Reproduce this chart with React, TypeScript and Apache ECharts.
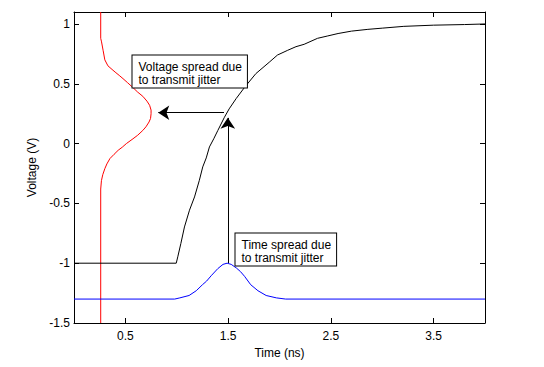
import React, { useEffect, useRef } from "react";
import * as echarts from "echarts";

// Step response (black)
const stepT = [0, 0.995, 1.01, 1.04, 1.075, 1.124, 1.173, 1.22, 1.253, 1.287, 1.318, 1.36, 1.4, 1.464, 1.51, 1.578, 1.66, 1.77, 1.9, 1.98, 2.08, 2.16, 2.24, 2.37, 2.47, 2.57, 2.7, 2.86, 3.0, 3.21, 3.5, 3.8, 4.0];
const stepV = [-1, -1, -0.947, -0.835, -0.697, -0.557, -0.446, -0.307, -0.195, -0.12, -0.028, 0.04, 0.11, 0.22, 0.29, 0.376, 0.47, 0.585, 0.68, 0.74, 0.78, 0.81, 0.83, 0.88, 0.9, 0.92, 0.94, 0.955, 0.965, 0.98, 0.99, 0.995, 1.0];

// Voltage spread distribution (red)
const voltX = [0.26, 0.26, 0.268, 0.283, 0.3, 0.33, 0.37, 0.4, 0.44, 0.477, 0.52, 0.574, 0.62, 0.67, 0.71, 0.736, 0.75, 0.75, 0.745, 0.73, 0.7, 0.67, 0.62, 0.574, 0.51, 0.47, 0.43, 0.39, 0.35, 0.32, 0.3, 0.28, 0.267, 0.26, 0.26];
const voltY = [1.1, 0.88, 0.85, 0.78, 0.7, 0.65, 0.62, 0.598, 0.57, 0.543, 0.51, 0.468, 0.43, 0.395, 0.355, 0.32, 0.28, 0.25, 0.21, 0.18, 0.14, 0.11, 0.07, 0.04, 0.0, -0.03, -0.056, -0.09, -0.125, -0.17, -0.21, -0.26, -0.31, -0.38, -1.5];

// Time spread distribution (blue)
const timeX = [0, 0.98, 1.03, 1.12, 1.19, 1.25, 1.29, 1.335, 1.4, 1.45, 1.49, 1.53, 1.58, 1.62, 1.66, 1.72, 1.79, 1.87, 1.97, 2.06, 4.0];
const timeY = [-1.3, -1.3, -1.29, -1.27, -1.23, -1.18, -1.15, -1.105, -1.045, -1.01, -1.0, -1.01, -1.04, -1.07, -1.11, -1.18, -1.23, -1.27, -1.29, -1.3, -1.3];

// Arrows
const arrowVertical = [[1.497, -1.0], [1.497, 0.215]];
const arrowHorizontal = [[1.46, 0.258], [0.82, 0.258]];

// Annotations (top-left anchor in data coords)
const notes = [
  { text: "Voltage spread due\nto transmit jitter", at: [0.564, 0.744] },
  { text: "Time spread due\nto transmit jitter", at: [1.569, -0.744] },
];

const xTicks = [0.5, 1.5, 2.5, 3.5];
const yTicks = [-1.5, -1, -0.5, 0, 0.5, 1];

const FONT = "Liberation Sans, Arial, sans-serif";

const zip = (a: number[], b: number[]) => a.map((v, i) => [v, b[i]]);

export default function App() {
  const ref = useRef<HTMLDivElement>(null);
  useEffect(() => {
    if (!ref.current) return;
    const chart = echarts.init(ref.current, null, { renderer: "svg" });
    const axisLine = { show: true, onZero: false, lineStyle: { color: "#000", width: 1 } };
    const xBase = {
      type: "value" as const,
      min: 0,
      max: 4,
      splitLine: { show: false },
      axisLine,
    };
    const yBase = {
      type: "value" as const,
      min: -1.5,
      max: 1.1,
      splitLine: { show: false },
      axisLine,
    };
    chart.setOption({
      animation: false,
      backgroundColor: "#fff",
      grid: { left: 74, right: 59, top: 12, bottom: 44, containLabel: false },
      xAxis: [
        {
          ...xBase,
          position: "bottom",
          name: "Time (ns)",
          nameLocation: "middle",
          nameGap: 23,
          nameTextStyle: { color: "#000", fontSize: 12, fontFamily: FONT },
          axisTick: { show: true, inside: true, length: 5, customValues: xTicks, lineStyle: { color: "#000" } },
          axisLabel: { show: true, customValues: xTicks, color: "#000", fontSize: 12, fontFamily: FONT, margin: 7 },
        },
        {
          ...xBase,
          position: "top",
          axisTick: { show: true, inside: true, length: 5, customValues: xTicks, lineStyle: { color: "#000" } },
          axisLabel: { show: false },
        },
      ],
      yAxis: [
        {
          ...yBase,
          position: "left",
          name: "Voltage (V)",
          nameLocation: "middle",
          nameGap: 31,
          nameTextStyle: { color: "#000", fontSize: 12, fontFamily: FONT },
          axisTick: { show: true, inside: true, length: 5, customValues: yTicks, lineStyle: { color: "#000" } },
          axisLabel: { show: true, customValues: yTicks, color: "#000", fontSize: 12, fontFamily: FONT, margin: 4 },
        },
        {
          ...yBase,
          position: "right",
          axisTick: { show: true, inside: true, length: 5, customValues: yTicks, lineStyle: { color: "#000" } },
          axisLabel: { show: false },
        },
      ],
      series: [
        {
          type: "line",
          data: zip(voltX, voltY),
          showSymbol: false,
          lineStyle: { color: "#ff0000", width: 1 },
          xAxisIndex: 0,
          yAxisIndex: 0,
        },
        {
          type: "line",
          data: zip(timeX, timeY),
          showSymbol: false,
          lineStyle: { color: "#0000ff", width: 1 },
        },
        {
          type: "line",
          data: zip(stepT, stepV),
          showSymbol: false,
          lineStyle: { color: "#000", width: 1 },
        },
        {
          type: "lines",
          coordinateSystem: "cartesian2d",
          symbol: ["none", "arrow"],
          symbolSize: 11,
          lineStyle: { color: "#000", width: 1, curveness: 0, opacity: 1 },
          itemStyle: { color: "#000" },
          data: [{ coords: arrowVertical }, { coords: arrowHorizontal }],
        },
      ],
    });
    const graphics = notes.map((n) => {
      const p = chart.convertToPixel({ xAxisIndex: 0, yAxisIndex: 0 }, n.at) as number[];
      return {
        type: "text",
        x: Math.round(p[0]) + 0.5,
        y: Math.round(p[1]) + 0.5,
        z: 100,
        style: {
          text: n.text,
          font: `12px ${FONT}`,
          fill: "#000",
          lineHeight: 13,
          backgroundColor: "#fff",
          borderColor: "#000",
          borderWidth: 1,
          padding: [5, 5, 1, 6],
        },
      };
    });
    chart.setOption({ graphic: graphics });
    return () => chart.dispose();
  }, []);
  return (
    <div
      ref={ref}
      style={{ position: "fixed", left: 0, top: 0, width: 544, height: 367 }}
    />
  );
}
